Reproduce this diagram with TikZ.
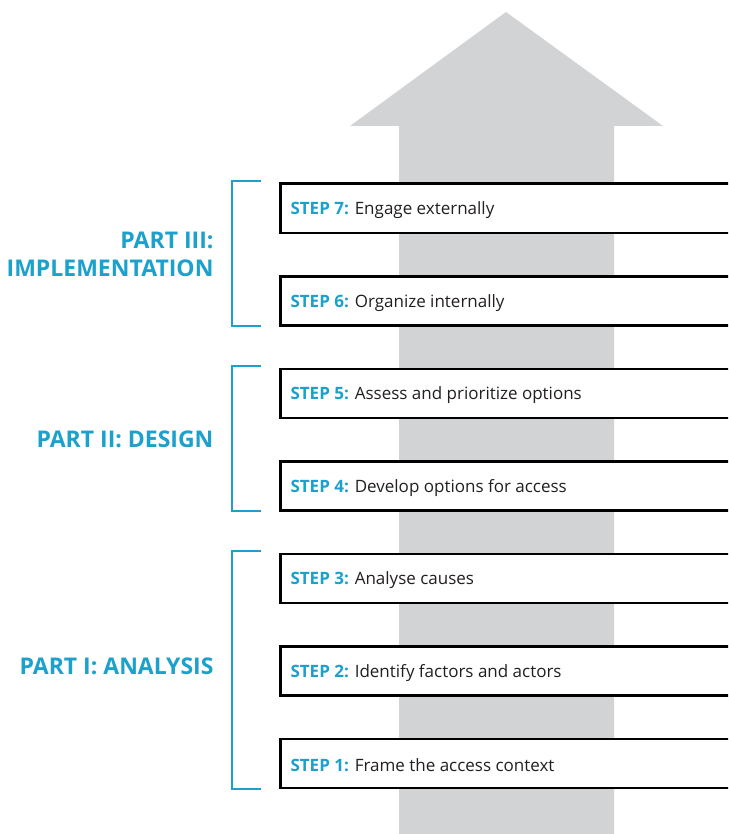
\documentclass[tikz,border=0pt]{standalone}
\usepackage{fontspec}
\setmainfont{Open Sans}
\definecolor{partblue}{HTML}{1BA1CB}
\definecolor{arrowgrey}{HTML}{D1D3D4}
\definecolor{textgrey}{HTML}{231F20}

\tikzset{
  stepbox/.style={draw=black,line width=2.6pt,fill=white,minimum height=49pt,
    minimum width=470pt,anchor=north west,inner sep=0pt},
  steptext/.style={anchor=west,text=textgrey,font=\fontsize{17}{20}\selectfont},
  partlabel/.style={anchor=east,align=right,text=partblue,
    font=\fontsize{23}{28}\selectfont\bfseries},
  partbracket/.style={draw=partblue,line width=1.3pt}
}
\newcommand{\steplabel}[1]{\textbf{\color{partblue}STEP #1:}}

\begin{document}
\begin{tikzpicture}[x=1pt,y=-1pt]
  \clip (0,0) rectangle (728,834);
  \fill[white] (0,0) rectangle (728,834);

  % big arrow behind the steps
  \fill[arrowgrey] (399,834) -- (399,126) -- (350,126) -- (506,12)
    -- (663,126) -- (614,126) -- (614,834) -- cycle;

  % steps, 7 at the top
  \foreach \k/\txt in {7/Engage externally,6/Organize internally,
      5/Assess and prioritize options,4/Develop options for access,
      3/Analyse causes,2/Identify factors and actors,1/Frame the access context} {
    \node[stepbox] (s\k) at (279,{182.5+(7-\k)*92.5}) {};
    \node[steptext] (t\k) at ([xshift=8pt,yshift=-2pt]s\k.west) {\steplabel{\k} \txt};
  }

  % brackets
  \coordinate (b3t) at (232,181); \coordinate (b3b) at (232,326);
  \coordinate (b2t) at (232,366); \coordinate (b2b) at (232,511);
  \coordinate (b1t) at (232,551); \coordinate (b1b) at (232,789);
  \foreach \p in {1,2,3}
    \draw[partbracket] ([xshift=29pt]b\p t) -- (b\p t) -- (b\p b) -- ([xshift=29pt]b\p b);

  % part labels
  \node[partlabel] (p3) at (217,254) {PART III:\\IMPLEMENTATION};
  \node[partlabel] (p2) at (217,439) {PART II: DESIGN};
  \node[partlabel] (p1) at (217,666) {PART I: ANALYSIS};
\end{tikzpicture}
\end{document}
